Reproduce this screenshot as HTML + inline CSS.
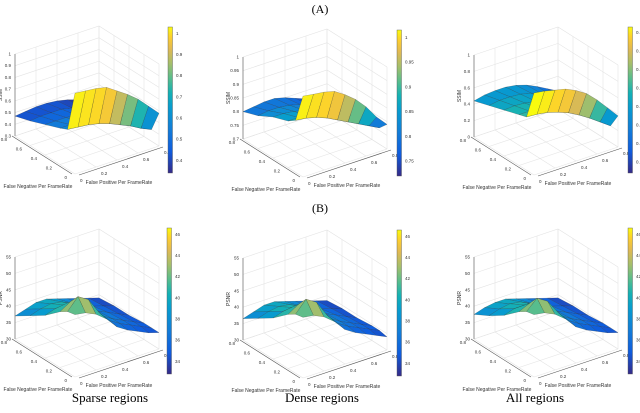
<!DOCTYPE html>
<html><head><meta charset="utf-8"><style>
body{margin:0;background:#fff;}
svg{display:block;font-family:"Liberation Sans",sans-serif;}
</style></head><body>
<svg id="fig" width="640" height="413" viewBox="0 0 640 413" xmlns="http://www.w3.org/2000/svg">
<text x="320" y="13" text-anchor="middle" font-family="Liberation Serif" font-size="12">(A)</text>
<text x="320" y="212" text-anchor="middle" font-family="Liberation Serif" font-size="12">(B)</text>
<text x="110" y="402" text-anchor="middle" font-family="Liberation Serif" font-size="13">Sparse regions</text>
<text x="322" y="402" text-anchor="middle" font-family="Liberation Serif" font-size="13">Dense regions</text>
<text x="535" y="402" text-anchor="middle" font-family="Liberation Serif" font-size="13">All regions</text>
</svg>
<script>
const fpVals=[0,0.1,0.2,0.3,0.4,0.5,0.6,0.7,0.8];
const fnVals=[0,0.1,0.2,0.4,0.6,0.8];
const ssimSparse=[
[.99,.98,.97,.95,.89,.83,.76,.67,.58],
[.64,.63,.62,.60,.57,.53,.49,.44,.40],
[.61,.61,.60,.58,.56,.52,.48,.43,.38],
[.56,.56,.56,.55,.53,.50,.46,.42,.37],
[.51,.52,.52,.52,.50,.48,.45,.41,.36],
[.47,.48,.49,.49,.48,.46,.43,.40,.35]];
const ssimDense=[
[.996,.99,.985,.975,.95,.92,.88,.83,.79],
[.89,.885,.875,.86,.84,.82,.80,.78,.76],
[.87,.87,.86,.85,.83,.81,.79,.77,.75],
[.85,.85,.845,.835,.82,.80,.78,.76,.745],
[.82,.825,.825,.82,.81,.79,.77,.755,.74],
[.80,.805,.81,.81,.80,.785,.77,.75,.735]];
const ssimAll=[
[1.0,.98,.95,.92,.86,.78,.66,.52,.38],
[.65,.64,.62,.58,.53,.46,.38,.29,.20],
[.62,.62,.60,.57,.52,.45,.37,.29,.21],
[.56,.57,.56,.54,.50,.44,.37,.29,.22],
[.50,.52,.52,.51,.48,.43,.36,.29,.22],
[.44,.47,.48,.48,.46,.42,.36,.29,.22]];
const psnrSparse=[
[49,48.5,47,44.5,41,39,37.5,36,35],
[48.5,52,50,45,41.5,39.5,38,36.5,35],
[47,49,48,44.5,41.5,39.5,38,36.5,35],
[43,44,44,43,41,39,37.5,36,34.5],
[40,41,41.5,41,39.5,38,36.5,35.5,34.5],
[37,38,39,39,38,37,36,35,34]];
const psnrDense=[
[48.5,48,46.5,44,40.5,38.5,37,35.5,34],
[48,51.5,49.5,44.5,41,39,37.5,36,34.5],
[46.5,48.5,47.5,44,41,39,37.5,36,34.5],
[42.5,43.5,43.5,42.5,40.5,38.5,37,35.5,34],
[39.5,40.5,41,40.5,39,37.5,36,35,34],
[36.5,37.5,38.5,38.5,37.5,36.5,35.5,34.5,33.5]];
const psnrAll=[
[49,48.5,47,44.5,41,39,37.5,36,35],
[48.5,51.5,49.5,45,41.5,39.5,38,36.5,35],
[47,48.5,48,44.5,41.5,39.5,38,36.5,35],
[43,44,44,43,41,39,37.5,36,34.5],
[40,41,41.5,41,39.5,38,36.5,35.5,34.5],
[37.5,38.5,39,39,38,37,36,35,34]];
const ssimTicksA=[0.3,0.4,0.5,0.6,0.7,0.8,0.9,1];
const ssimTicksB=[0.7,0.75,0.8,0.85,0.9,0.95,1];
const ssimTicksC=[0,0.2,0.4,0.6,0.8,1];
const psnrTicks=[30,35,40,45,50,55];
const cbarSsimA=[0.4,0.5,0.6,0.7,0.8,0.9,1];
const cbarSsimB=[0.75,0.8,0.85,0.9,0.95,1];
const cbarSsimC=[0.2,0.3,0.4,0.5,0.6,0.7,0.8,0.9];
const cbarPsnr=[34,36,38,40,42,44,46];
const fpTicks=[0,0.2,0.4,0.6,0.8];
const fnTicks=[0,0.2,0.4,0.6,0.8];

const parula=[[0,[53,42,135]],[0.15,[15,92,221]],[0.3,[18,125,216]],[0.45,[7,156,207]],[0.55,[21,177,180]],[0.65,[89,189,140]],[0.75,[165,190,107]],[0.85,[225,185,82]],[0.93,[252,206,46]],[1,[249,251,14]]];
function cmap(t){t=Math.max(0,Math.min(1,t));for(let i=1;i<parula.length;i++){if(t<=parula[i][0]){const a=parula[i-1],b=parula[i];const f=(t-a[0])/(b[0]-a[0]);const c=a[1].map((v,k)=>Math.round(v+(b[1][k]-v)*f));return`rgb(${c})`;}}return'rgb(249,251,14)';}
const svg=document.getElementById('fig');const NS='http://www.w3.org/2000/svg';
function el(tag,attrs,parent){const e=document.createElementNS(NS,tag);for(const k in attrs)e.setAttribute(k,attrs[k]);(parent||svg).appendChild(e);return e;}

const panels=[
{name:'ssim-sparse',ox:75,oy:174,z:ssimSparse,zt:ssimTicksA,cb:cbarSsimA,cbx:168,cbTop:27,lab:'SSIM',cmin:0.45,cmax:1.0,k:0},
{name:'ssim-dense',ox:303,oy:177,z:ssimDense,zt:ssimTicksB,cb:cbarSsimB,cbx:397,cbTop:30,lab:'SSIM',cmin:0.76,cmax:1.0,k:0},
{name:'ssim-all',ox:534,oy:175,z:ssimAll,zt:ssimTicksC,cb:cbarSsimC,cbx:628,cbTop:27,lab:'SSIM',cmin:0.15,cmax:1.0,k:0},
{name:'psnr-sparse',ox:75,oy:377,z:psnrSparse,zt:psnrTicks,cb:cbarPsnr,cbx:167,cbTop:228,lab:'PSNR',cmin:33.5,cmax:45,k:12},
{name:'psnr-dense',ox:303,oy:378,z:psnrDense,zt:psnrTicks,cb:cbarPsnr,cbx:397,cbTop:230,lab:'PSNR',cmin:33,cmax:44.5,k:12},
{name:'psnr-all',ox:534,oy:377,z:psnrAll,zt:psnrTicks,cb:cbarPsnr,cbx:628,cbTop:228,lab:'PSNR',cmin:33.5,cmax:45,k:12}];

panels.forEach(p=>{
 const g=el('g',{});
 
 
 const zmin=p.zt[0],zmax=p.zt[p.zt.length-1],H=82;
 const P=(fp,fn,z)=>[p.ox+fp/0.8*84-fn/0.8*60, p.oy-fp/0.8*28-fn/0.8*38-(z-zmin)/(zmax-zmin)*H];
 const gl={stroke:'#e4e4e4','stroke-width':0.6,fill:'none'};
 fpTicks.forEach(v=>{const a=P(v,0,zmin),b=P(v,0.8,zmin);el('line',Object.assign({x1:a[0],y1:a[1],x2:b[0],y2:b[1]},gl),g);});
 fnTicks.forEach(v=>{const a=P(0,v,zmin),b=P(0.8,v,zmin);el('line',Object.assign({x1:a[0],y1:a[1],x2:b[0],y2:b[1]},gl),g);});
 p.zt.forEach(z=>{const a=P(0,0.8,z),b=P(0.8,0.8,z),c=P(0.8,0,z);el('polyline',Object.assign({points:`${a} ${b} ${c}`},gl),g);});
 fpTicks.forEach(v=>{const a=P(v,0.8,zmin),b=P(v,0.8,zmax);el('line',Object.assign({x1:a[0],y1:a[1],x2:b[0],y2:b[1]},gl),g);});
 fnTicks.forEach(v=>{const a=P(0.8,v,zmin),b=P(0.8,v,zmax);el('line',Object.assign({x1:a[0],y1:a[1],x2:b[0],y2:b[1]},gl),g);});
 const ax={stroke:'#555','stroke-width':0.6};
 let a=P(0,0.8,zmin),b=P(0,0.8,zmax);el('line',Object.assign({x1:a[0],y1:a[1],x2:b[0],y2:b[1]},ax),g);
 a=P(0,0,zmin);b=P(0.8,0,zmin);el('line',Object.assign({x1:a[0]+4,y1:a[1]+1,x2:b[0]+4,y2:b[1]+1},ax),g);
 b=P(0,0.8,zmin);el('line',Object.assign({x1:a[0]-3,y1:a[1],x2:b[0]-3,y2:b[1]},ax),g);
 p.zt.forEach(z=>{const q=P(0,0.8,z);const t=el('text',{x:q[0]-4,y:q[1]+1.5,'font-size':4.5,'text-anchor':'end',fill:'#333'},g);t.textContent=z;});
 fpTicks.forEach(v=>{const q=P(v,0,zmin);const t=el('text',{x:q[0]+5,y:q[1]+8,'font-size':4.5,fill:'#333'},g);t.textContent=v;});
 fnTicks.forEach(v=>{const q=P(0,v,zmin);const t=el('text',{x:q[0]-8,y:q[1]+5,'font-size':4.5,'text-anchor':'end',fill:'#333'},g);t.textContent=v;});
 let t=el('text',{x:p.ox+44,y:p.oy+10,'font-size':5,'text-anchor':'middle',fill:'#333'},g);t.textContent='False Positive Per FrameRate';
 t=el('text',{x:p.ox-37,y:p.oy+14,'font-size':5,'text-anchor':'middle',fill:'#333'},g);t.textContent='False Negative Per FrameRate';
 let q=P(0,0.8,(zmin+zmax)/2);t=el('text',{x:q[0]-13,y:q[1],'font-size':5,'text-anchor':'middle',fill:'#333',transform:`rotate(-90 ${q[0]-13} ${q[1]})`},g);t.textContent=p.lab;
 const quads=[];
 for(let i=0;i<fnVals.length-1;i++)for(let j=0;j<fpVals.length-1;j++)quads.push([i,j]);
 quads.sort((A,B)=>(fnVals[B[0]]+fpVals[B[1]])-(fnVals[A[0]]+fpVals[A[1]]));
 quads.forEach(([i,j])=>{
  const corners=[[i,j],[i,j+1],[i+1,j+1],[i+1,j]];
  const pts=corners.map(([r,c])=>P(fpVals[c],fnVals[r],p.z[r][c]));
  let cv;
  if(p.k===0){cv=Math.max(...corners.map(([r,c])=>p.z[r][c]));}
  else{cv=corners.reduce((s,[r,c])=>s+p.z[r][c]-p.k*(0.8-fnVals[r])*(1-fpVals[c]/0.8),0)/4;}
  const poly=el('polygon',{points:pts.map(s=>s.join(',')).join(' '),fill:cmap((cv-p.cmin)/(p.cmax-p.cmin)),stroke:'#222','stroke-width':0.3,'stroke-opacity':0.6},g);
  
  
 });
 const top=p.cbTop,bot=p.cbTop+146;
 const grad=el('linearGradient',{id:'gr'+p.name,x1:0,y1:1,x2:0,y2:0},g);
 parula.forEach(s=>el('stop',{offset:s[0],'stop-color':cmap(s[0])},grad));
 const cb=el('rect',{x:p.cbx,y:top,width:4.5,height:bot-top,fill:`url(#gr${p.name})`,stroke:'#555','stroke-width':0.4},g);
 
 
 const c0=p.cb[0]-(p.cb[1]-p.cb[0])*0.6,c1=p.cb[p.cb.length-1]+(p.cb[1]-p.cb[0])*0.3;
 p.cb.forEach(v=>{const y=bot-(v-c0)/(c1-c0)*(bot-top);const tt=el('text',{x:p.cbx+8,y:y+1.5,'font-size':4.5,fill:'#333'},g);tt.textContent=v;});
});
</script>
</body></html>
